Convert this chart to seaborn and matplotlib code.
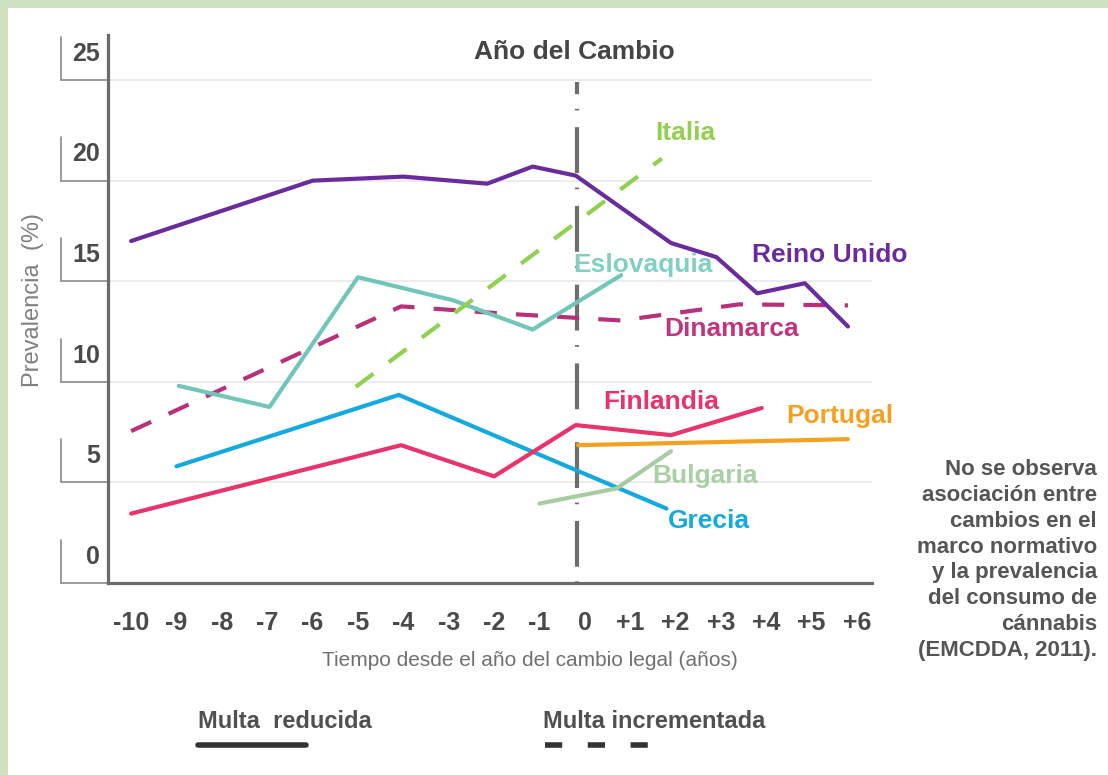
import matplotlib
matplotlib.use("Agg")
import matplotlib.pyplot as plt
import matplotlib.patches as mpatches
from matplotlib import font_manager
from matplotlib.lines import Line2D
import numpy as np
import seaborn as sns

# anos desde el cambio legal (x) y prevalencia % (y)
reino_unido_x = [-10.0, -6.0, -4.0, -2.15, -1.15, -0.2, 1.9, 2.9, 3.8, 4.85, 5.8]
reino_unido_y = [17.0, 20.0, 20.2, 19.85, 20.7, 20.25, 16.9, 16.2, 14.4, 14.9, 12.75]

italia_x = [-5.05, 1.7]
italia_y = [9.75, 21.1]

eslovaquia_x = [-8.95, -6.95, -5.0, -2.9, -1.15, 0.8]
eslovaquia_y = [9.8, 8.75, 15.2, 14.05, 12.6, 15.3]

dinamarca_x = [-10.0, -4.05, -1.85, 0.8, 3.4, 5.8]
dinamarca_y = [7.55, 13.75, 13.4, 13.05, 13.85, 13.8]

finlandia_x = [-10.0, -4.05, -2.0, -0.2, 1.9, 3.9]
finlandia_y = [3.45, 6.85, 5.3, 7.85, 7.35, 8.7]

grecia_x = [-9.0, -4.1, 1.8]
grecia_y = [5.8, 9.35, 3.7]

portugal_x = [-0.15, 5.8]
portugal_y = [6.85, 7.15]

bulgaria_x = [-1.0, 0.7, 1.9]
bulgaria_y = [3.95, 4.7, 6.55]

ano_cambio = -0.17

xtick_vals = list(range(-10, 7))
xtick_labels = [str(v) if v <= 0 else f"+{v}" for v in xtick_vals]
ytick_vals = [0, 5, 10, 15, 20, 25]

# (nombre, x, y, color, dashed?, label x, label y)
series = [
    ("Dinamarca", dinamarca_x, dinamarca_y, "#b8307a", True, 1.76, 12.65),
    ("Eslovaquia", eslovaquia_x, eslovaquia_y, "#72c6b9", False, -0.26, 15.8),
    ("Italia", italia_x, italia_y, "#92d050", True, 1.55, 22.35),
    ("Reino Unido", reino_unido_x, reino_unido_y, "#6a2c9c", False, 3.68, 16.3),
    ("Grecia", grecia_x, grecia_y, "#14a9df", False, 1.83, 3.1),
    ("Bulgaria", bulgaria_x, bulgaria_y, "#a8cca2", False, 1.48, 5.3),
    ("Portugal", portugal_x, portugal_y, "#f5a11f", False, 4.43, 8.3),
    ("Finlandia", finlandia_x, finlandia_y, "#e8336b", False, 0.4, 9.0),
]
label_colors = {"Eslovaquia": "#80cfc3", "Dinamarca": "#c0357f", "Bulgaria": "#a9cfa4"}

sns.set_style("white")
plt.rcParams['font.family'] = ['Liberation Sans', 'DejaVu Sans']

installed = {f.name for f in font_manager.fontManager.ttflist}
if 'Liberation Sans Narrow' in installed:
    narrow = dict(family=['Liberation Sans Narrow', 'Liberation Sans'], fontsize=20)
else:
    narrow = dict(family=['Liberation Sans', 'DejaVu Sans'], fontsize=17)

fig = plt.figure(figsize=(11.08, 7.75), dpi=100)
fig.patch.set_facecolor('#cfe2bf')
fig.add_artist(mpatches.Rectangle((8 / 1108, 0), 1, 767 / 775, transform=fig.transFigure,
                                  facecolor='white', edgecolor='none', zorder=-5))

ax = fig.add_axes([108 / 1108, 192 / 775, 764 / 1108, 548 / 775])
ax.set_facecolor('none')
ax.set_xlim(-10.51, 6.33)
ax.set_ylim(0, 27.24)

# lineas de referencia
for v in ytick_vals[1:]:
    ax.axhline(v, color='#ececec', lw=1.5, zorder=0)

ax.plot([ano_cambio, ano_cambio], [0, 24.9], color='#6e6e6e', lw=3,
        linestyle=(0, (0.4, 3.5, 11, 4)), zorder=1)

for name, xs, ys, color, dashed, lx, ly in series:
    ls = (0, (5.3, 4.6)) if dashed else '-'
    sns.lineplot(x=xs, y=ys, color=color, linewidth=3, linestyle=ls, ax=ax,
                 sort=False, estimator=None, zorder=3)
    ax.text(lx, ly, name, color=label_colors.get(name, color), fontsize=19,
            fontweight='bold', ha='left', va='center', zorder=4)

ax.text(-0.24, 26.4, "Año del Cambio", color='#454545', fontsize=19,
        fontweight='bold', ha='center', va='center')

# ejes
sns.despine(ax=ax)
for side in ['left', 'bottom']:
    ax.spines[side].set_color('#6b6b6b')
    ax.spines[side].set_linewidth(2.3)

ax.set_yticks([])
ytrans = ax.get_yaxis_transform()
for v in ytick_vals:
    ax.plot([-0.0615, 0.0], [v, v], color='#8a8a8a', lw=1.2, transform=ytrans, clip_on=False)
    ax.plot([-0.0615, -0.0615], [v, v + 2.15], color='#8a8a8a', lw=1.2, transform=ytrans,
            clip_on=False)
    ax.text(-0.0105, v + 1.3, str(v), color='#4a4a4a', fontsize=18, fontweight='bold',
            ha='right', va='center', transform=ytrans)

ax.set_xticks(xtick_vals)
ax.set_xticklabels(xtick_labels, fontsize=18, fontweight='bold', color='#4a4a4a')
ax.tick_params(axis='x', which='major', length=0, pad=20)
ax.set_xticks(np.linspace(-10.51, 6.19, 18), minor=True)
ax.tick_params(axis='x', which='minor', length=11, width=1.5, color='#8a8a8a', direction='out')

ax.set_xlabel("Tiempo desde el año del cambio legal (años)", fontsize=15, color='#707070')
ax.xaxis.set_label_coords(0.552, -0.141)
ax.xaxis.label.set_va('center')
ax.set_ylabel("Prevalencia  (%)", fontsize=17, color='#808080')
ax.yaxis.set_label_coords(-0.098, 0.516)
ax.yaxis.label.set_va('center')

# leyenda manual
fig.text(198 / 1108, 54 / 775, "Multa  reducida", color='#505050', fontweight='bold',
         ha='left', va='center', **narrow)
fig.text(543 / 1108, 54 / 775, "Multa incrementada", color='#505050', fontweight='bold',
         ha='left', va='center', **narrow)
fig.add_artist(Line2D([198 / 1108, 306 / 1108], [30 / 775, 30 / 775], color='#333333', lw=4,
                      transform=fig.transFigure))
fig.add_artist(Line2D([545 / 1108, 653 / 1108], [30 / 775, 30 / 775], color='#333333', lw=4,
                      linestyle=(0, (3.1, 4.6)), transform=fig.transFigure))

nota = ("No se observa\nasociación entre\ncambios en el\nmarco normativo\n"
        "y la prevalencia\ndel consumo de\ncánnabis\n(EMCDDA, 2011).")
fig.text(1097 / 1108, 215 / 775, nota, color='#555555', fontsize=16, fontweight='bold',
         ha='right', va='center', linespacing=1.31)

fig.savefig('out.png', dpi=100)
